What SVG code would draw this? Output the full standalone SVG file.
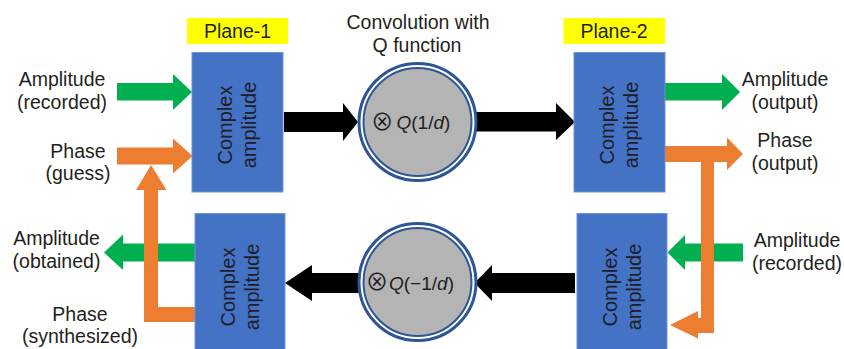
<svg xmlns="http://www.w3.org/2000/svg" width="844" height="349" viewBox="0 0 844 349">
  <style>
    .lbl { font-family: "Liberation Sans", Arial, sans-serif; font-size: 19.5px; fill: #231F20; text-anchor: middle; }
    .box { fill: #4472C4; stroke: #6A93D8; stroke-width: 1; }
    .boxtxt { font-family: "Liberation Sans", Arial, sans-serif; font-size: 20px; fill: #1E1E28; text-anchor: middle; }
    .tag { fill: #FFFF00; }
    .green { fill: #00B050; }
    .orange { fill: #ED7D31; }
    .black { fill: #000000; }
    .ring { fill: #FFFFFF; stroke: #2E5597; stroke-width: 3; }
    .core { fill: #B4B4B4; stroke: #2E5597; stroke-width: 2; }
    .op { font-family: "Liberation Sans", Arial, sans-serif; font-size: 19px; fill: #231F20; }
    .otimes { font-family: "Noto Sans CJK JP", "DejaVu Sans", sans-serif; font-size: 23px; text-anchor: middle; }
    .expr { text-anchor: start; }
  </style>

  <!-- plane tags -->
  <g id="plane1-tag">
    <rect class="tag" x="187" y="18" width="101" height="26"/>
    <text class="lbl" x="237.5" y="37.5">Plane-1</text>
  </g>
  <g id="plane2-tag">
    <rect class="tag" x="563.5" y="18" width="101.5" height="26"/>
    <text class="lbl" x="614" y="37.5">Plane-2</text>
  </g>
  <g id="conv-title">
    <text class="lbl" x="418" y="28.5">Convolution with</text>
    <text class="lbl" x="417" y="51.5">Q function</text>
  </g>

  <!-- connectors -->
  <g id="connectors">
    <!-- inputs / outputs at plane 1 -->
    <polygon class="green" points="117,83 173,83 173,74 192,92 173,110 173,100.5 117,100.5"/>
    <polygon class="orange" points="117,147.5 173,147.5 173,138.5 192.5,156 173,173.5 173,164.5 117,164.5"/>
    <polygon class="green" points="195,243.5 123,243.5 123,234.5 104,252.5 123,270 123,261.5 195,261.5"/>
    <polygon class="orange" points="195,307 158,307 158,190 166.5,190 151,165 136,190 144,190 144,322 195,322"/>

    <!-- forward / backward propagation -->
    <polygon class="black" points="284,112 343,112 343,103 358,122 343,141 343,132 284,132"/>
    <polygon class="black" points="476,112 556,112 556,103 575,122 556,140 556,131.5 476,131.5"/>
    <polygon class="black" points="360,273 312,273 312,265 285,283 312,301 312,293 360,293"/>
    <polygon class="black" points="575,273 492,273 492,265 474.5,283 492,301 492,293 575,293"/>

    <!-- inputs / outputs at plane 2 -->
    <polygon class="green" points="665,83 722,83 722,74 740,92 722,110 722,100.5 665,100.5"/>
    <polygon class="green" points="743,243.5 685,243.5 685,235 667.5,252.5 685,270 685,261.5 743,261.5"/>
    <polygon class="orange" points="663,146 727,146 727,137.5 743,154 727,170 727,162 714,162 714,333 698,333 698,338.5 670,325 698,311 698,318 701,318 701,162 663,162"/>
  </g>

  <!-- complex amplitude blocks -->
  <g id="p1-forward">
    <rect class="box" x="192" y="52.5" width="91" height="139.5"/>
    <g transform="translate(237.5,125) rotate(-90)">
      <text class="boxtxt" x="0" y="-5.5">Complex</text>
      <text class="boxtxt" x="0" y="18.5">amplitude</text>
    </g>
  </g>
  <g id="p1-backward">
    <rect class="box" x="195" y="213.5" width="90" height="140"/>
    <g transform="translate(240.5,287) rotate(-90)">
      <text class="boxtxt" x="0" y="-5.5">Complex</text>
      <text class="boxtxt" x="0" y="18.5">amplitude</text>
    </g>
  </g>
  <g id="p2-forward">
    <rect class="box" x="574" y="52.5" width="91" height="139.5"/>
    <g transform="translate(619.5,125) rotate(-90)">
      <text class="boxtxt" x="0" y="-5.5">Complex</text>
      <text class="boxtxt" x="0" y="18.5">amplitude</text>
    </g>
  </g>
  <g id="p2-backward">
    <rect class="box" x="577" y="213.5" width="90" height="140"/>
    <g transform="translate(622,287) rotate(-90)">
      <text class="boxtxt" x="0" y="-5.5">Complex</text>
      <text class="boxtxt" x="0" y="18.5">amplitude</text>
    </g>
  </g>

  <!-- convolution operators -->
  <g id="conv-forward">
    <circle class="ring" cx="417.5" cy="122" r="58.5"/>
    <circle class="core" cx="417.5" cy="122" r="54"/>
    <text class="op"><tspan class="otimes" x="382.3" y="129.6">⊗</tspan><tspan class="expr" x="396.5" y="128.5"><tspan font-style="italic">Q</tspan>(1/<tspan font-style="italic">d</tspan>)</tspan></text>
  </g>
  <g id="conv-backward">
    <circle class="ring" cx="417.5" cy="282" r="58.5"/>
    <circle class="core" cx="417.5" cy="282" r="54"/>
    <text class="op"><tspan class="otimes" x="377" y="290">⊗</tspan><tspan class="expr" x="389" y="290"><tspan font-style="italic">Q</tspan>(−1/<tspan font-style="italic">d</tspan>)</tspan></text>
  </g>

  <!-- side labels -->
  <g id="lbl-amp-rec-1">
    <text class="lbl" x="62" y="86">Amplitude</text>
    <text class="lbl" x="62" y="108.5">(recorded)</text>
  </g>
  <g id="lbl-phase-guess">
    <text class="lbl" x="78" y="157.5">Phase</text>
    <text class="lbl" x="78" y="180">(guess)</text>
  </g>
  <g id="lbl-amp-obt">
    <text class="lbl" x="56.5" y="245">Amplitude</text>
    <text class="lbl" x="56.5" y="268">(obtained)</text>
  </g>
  <g id="lbl-phase-syn">
    <text class="lbl" x="80" y="320.5">Phase</text>
    <text class="lbl" x="80" y="343">(synthesized)</text>
  </g>
  <g id="lbl-amp-out">
    <text class="lbl" x="785" y="86">Amplitude</text>
    <text class="lbl" x="785" y="108.5">(output)</text>
  </g>
  <g id="lbl-phase-out">
    <text class="lbl" x="785" y="147">Phase</text>
    <text class="lbl" x="785" y="170">(output)</text>
  </g>
  <g id="lbl-amp-rec-2">
    <text class="lbl" x="797" y="247">Amplitude</text>
    <text class="lbl" x="797" y="269.5">(recorded)</text>
  </g>
</svg>
